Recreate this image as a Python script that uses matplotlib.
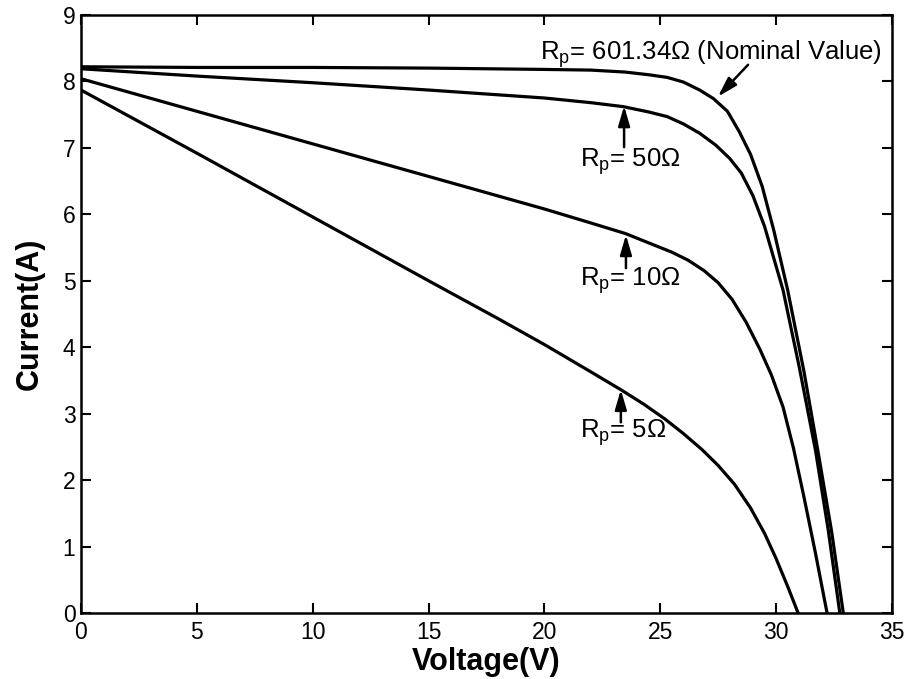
import matplotlib
matplotlib.use("Agg")
import matplotlib.pyplot as plt

plt.rcParams['font.family'] = ['Liberation Sans', 'DejaVu Sans']
plt.rcParams['mathtext.fontset'] = 'custom'
plt.rcParams['mathtext.rm'] = 'Liberation Sans'
plt.rcParams['mathtext.it'] = 'Liberation Sans:italic'

# Curves: voltage (V) and current (A)
v_nominal = [0, 5, 10, 15, 20, 22, 23.5, 24.5, 25.3, 26.0, 26.7, 27.3, 27.9, 28.4, 28.9, 29.4, 29.9,
             30.5, 31.2, 31.8, 32.4, 32.9]
i_nominal = [8.22, 8.21, 8.21, 8.20, 8.18, 8.17, 8.14, 8.10, 8.06, 7.99, 7.87, 7.74, 7.55, 7.25, 6.90,
             6.42, 5.76, 4.86, 3.64, 2.45, 1.22, 0]

v_50 = [0, 5, 10, 15, 20, 22, 23.4, 24.5, 25.3, 26.0, 26.7, 27.4, 28.0, 28.5, 29.0, 29.5, 29.9,
        30.3, 31.0, 31.7, 32.25, 32.75]
i_50 = [8.19, 8.08, 7.98, 7.87, 7.75, 7.68, 7.62, 7.54, 7.47, 7.36, 7.22, 7.04, 6.84, 6.62, 6.28,
        5.82, 5.34, 4.86, 3.70, 2.45, 1.25, 0]

v_10 = [0, 5, 10, 15, 20, 22, 23.5, 24.5, 25.5, 26.2, 26.9, 27.5, 28.1, 28.7, 29.3, 29.8, 30.3,
        30.75, 31.2, 31.7, 32.2]
i_10 = [8.04, 7.55, 7.06, 6.57, 6.08, 5.87, 5.71, 5.57, 5.43, 5.31, 5.15, 4.97, 4.72, 4.38, 3.97,
        3.58, 3.10, 2.48, 1.75, 0.90, 0]

v_5 = [0, 5, 10, 15, 18, 20, 22, 23.3, 24.3, 25.2, 26.0, 26.8, 27.5, 28.2, 28.9, 29.5, 30.0,
       30.5, 30.95]
i_5 = [7.87, 6.92, 5.96, 5.00, 4.43, 4.04, 3.63, 3.36, 3.14, 2.92, 2.70, 2.46, 2.22, 1.94, 1.58,
       1.20, 0.82, 0.40, 0]

x_ticks = [0, 5, 10, 15, 20, 25, 30, 35]
y_ticks = [0, 1, 2, 3, 4, 5, 6, 7, 8, 9]

labels = ['R$_\\mathrm{p}$= 601.34\u03a9 (Nominal Value)', 'R$_\\mathrm{p}$= 50\u03a9',
          'R$_\\mathrm{p}$= 10\u03a9', 'R$_\\mathrm{p}$= 5\u03a9']
label_pos = [(19.81, 8.32), (21.54, 6.71), (21.54, 4.92), (21.54, 2.63)]
arrow_tail = [(28.79, 8.25), (23.44, 7.01), (23.52, 5.19), (23.30, 2.87)]
arrow_tip = [(27.49, 7.77), (23.44, 7.63), (23.52, 5.69), (23.30, 3.36)]

fig = plt.figure(figsize=(9.12, 6.79), dpi=100)
ax = fig.add_axes([0.0888, 0.0972, 0.8892, 0.8808])

for v, i in [(v_nominal, i_nominal), (v_50, i_50), (v_10, i_10), (v_5, i_5)]:
    ax.plot(v, i, color='black', linewidth=2.3, solid_joinstyle='round')

for txt, pos, tail, tip in zip(labels, label_pos, arrow_tail, arrow_tip):
    ax.text(pos[0], pos[1], txt, fontsize=18.5, ha='left', va='baseline')
    ax.annotate('', xy=tip, xytext=tail,
                arrowprops=dict(arrowstyle='-|>,head_length=0.75,head_width=0.22', color='black', lw=1.8,
                                mutation_scale=16, shrinkA=0, shrinkB=0))

ax.set_xlim(0, 35)
ax.set_ylim(0, 9)
ax.set_xticks(x_ticks)
ax.set_yticks(y_ticks)
ax.tick_params(direction='in', length=7, width=1.5, top=True, right=True, labelsize=16.5)
ax.tick_params(axis='x', pad=6)
ax.tick_params(axis='y', pad=4)
for s in ax.spines.values():
    s.set_linewidth(1.8)
ax.set_xlabel('Voltage(V)', fontsize=22, fontweight='bold', labelpad=2)
ax.set_ylabel('Current(A)', fontsize=22, fontweight='bold')
ax.yaxis.set_label_coords(-0.045, 0.5)

fig.savefig('out.png', dpi=100)
